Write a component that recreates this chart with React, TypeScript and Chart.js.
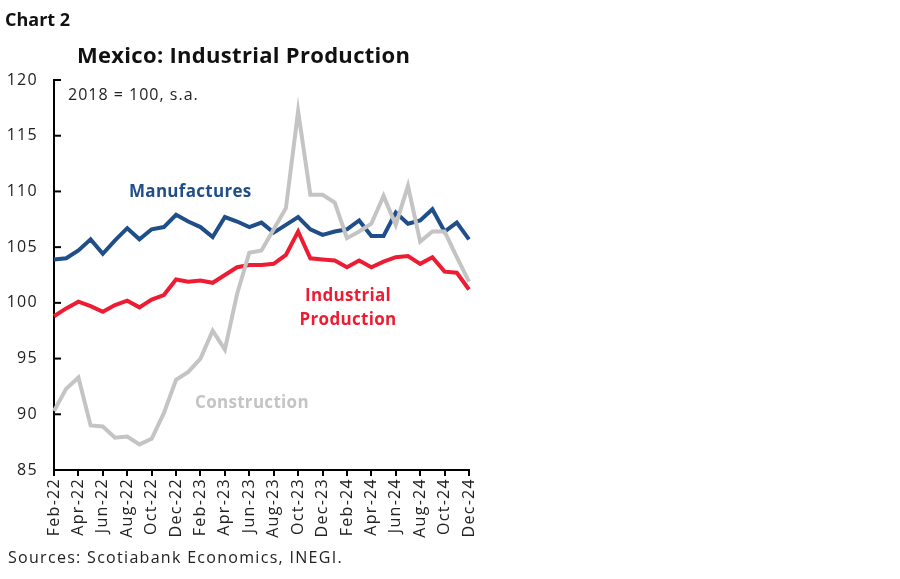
import { Chart, ChartConfiguration, Plugin, registerables } from "chart.js";
import React, { useEffect, useRef } from "react";

Chart.register(...registerables);

const months = [
  "Feb-22", "Mar-22", "Apr-22", "May-22", "Jun-22", "Jul-22", "Aug-22", "Sep-22",
  "Oct-22", "Nov-22", "Dec-22", "Jan-23", "Feb-23", "Mar-23", "Apr-23", "May-23",
  "Jun-23", "Jul-23", "Aug-23", "Sep-23", "Oct-23", "Nov-23", "Dec-23", "Jan-24",
  "Feb-24", "Mar-24", "Apr-24", "May-24", "Jun-24", "Jul-24", "Aug-24", "Sep-24",
  "Oct-24", "Nov-24", "Dec-24",
];

const manufactures = [
  103.9, 104.0, 104.7, 105.7, 104.4, 105.6, 106.7, 105.7, 106.6, 106.8, 107.9, 107.3,
  106.8, 105.9, 107.7, 107.3, 106.8, 107.2, 106.3, 107.0, 107.7, 106.6, 106.1, 106.4,
  106.6, 107.4, 106.0, 106.0, 108.1, 107.1, 107.4, 108.4, 106.4, 107.2, 105.7,
];

const industrial = [
  98.8, 99.5, 100.1, 99.7, 99.2, 99.8, 100.2, 99.6, 100.3, 100.7, 102.1, 101.9,
  102.0, 101.8, 102.5, 103.2, 103.4, 103.4, 103.5, 104.3, 106.4, 104.0, 103.9, 103.8,
  103.2, 103.8, 103.2, 103.7, 104.1, 104.2, 103.5, 104.1, 102.8, 102.7, 101.2,
];

const construction = [
  90.3, 92.3, 93.3, 89.0, 88.9, 87.9, 88.0, 87.3, 87.8, 90.1, 93.1, 93.8,
  95.0, 97.5, 95.8, 100.8, 104.5, 104.7, 106.6, 108.5, 117.2, 109.7, 109.7, 109.0,
  105.8, 106.4, 107.1, 109.6, 107.0, 110.5, 105.5, 106.4, 106.4, 104.1, 101.9,
];

const yMin = 85;
const yMax = 120;
const yStep = 5;

const BLUE = "#1f4e89";
const RED = "#ee1c33";
const GREY = "#c4c4c4";
const FONT = "'Open Sans', 'Noto Sans', sans-serif";

// spacing + small texts drawn straight on the canvas
const textPlugin: Plugin<"line"> = {
  id: "texts",
  beforeDraw(chart) {
    (chart.ctx as any).letterSpacing = "1.3px";
  },
  afterDraw(chart) {
    const ctx = chart.ctx;
    const area = chart.chartArea;
    const y = chart.scales.y;

    // inward ticks on the y axis
    ctx.save();
    ctx.strokeStyle = "#000";
    ctx.lineWidth = 2;
    for (const t of y.ticks) {
      const py = y.getPixelForValue(t.value);
      ctx.beginPath();
      ctx.moveTo(area.left, py);
      ctx.lineTo(area.left + 7, py);
      ctx.stroke();
    }
    ctx.restore();

    const put = (text: string, x: number, yy: number, font: string, color: string,
      align: CanvasTextAlign = "left", spacing = "1px") => {
      ctx.save();
      (ctx as any).letterSpacing = spacing;
      ctx.font = font;
      ctx.fillStyle = color;
      ctx.textAlign = align;
      ctx.textBaseline = "alphabetic";
      ctx.fillText(text, x, yy);
      ctx.restore();
    };

    put("Chart 2", 5, 26, `bold 18px ${FONT}`, "#111", "left", "0px");
    put("Mexico: Industrial Production", 77, 63, `bold 22px ${FONT}`, "#111", "left", "0.3px");
    put("2018 = 100, s.a.", 68, 100, `16px ${FONT}`, "#222", "left", "1px");
    put("Manufactures", 129, 197, `bold 17px ${FONT}`, BLUE, "left", "0.3px");
    put("Industrial", 348, 301, `bold 17px ${FONT}`, RED, "center", "0.3px");
    put("Production", 348, 325, `bold 17px ${FONT}`, RED, "center", "0.3px");
    put("Construction", 195, 408, `bold 17px ${FONT}`, GREY, "left", "0.3px");
    put("Sources: Scotiabank Economics, INEGI.", 8, 563, `16px ${FONT}`, "#222", "left", "1.3px");
  },
};

function configOf(): ChartConfiguration<"line"> {
  const line = (data: number[], color: string, label: string) => ({
    label,
    data,
    borderColor: color,
    backgroundColor: color,
    borderWidth: 4,
    pointRadius: 0,
    tension: 0,
    borderJoinStyle: "miter" as const,
  });

  return {
    type: "line",
    data: {
      labels: months,
      datasets: [
        line(construction, GREY, "Construction"),
        line(industrial, RED, "Industrial Production"),
        line(manufactures, BLUE, "Manufactures"),
      ],
    },
    options: {
      animation: false,
      responsive: false,
      devicePixelRatio: 1,
      layout: { padding: { top: 80, right: 431, left: 0, bottom: 0 } },
      plugins: {
        legend: { display: false },
        tooltip: { enabled: false },
      },
      scales: {
        x: {
          afterFit: (s) => { s.height = 109; },
          grid: {
            drawOnChartArea: false,
            tickLength: 6,
            lineWidth: 2,
            color: (c) => (c.index % 2 === 0 ? "#000" : "rgba(0,0,0,0)"),
          },
          border: { display: true, color: "#000", width: 2 },
          ticks: {
            autoSkip: false,
            maxRotation: 90,
            minRotation: 90,
            padding: 2,
            color: "#222",
            font: { family: FONT, size: 16 },
            callback: (_v, i) => (i % 2 === 0 ? months[i] : ""),
          },
        },
        y: {
          min: yMin,
          max: yMax,
          afterFit: (s) => { s.width = 54; },
          grid: { drawOnChartArea: false, drawTicks: false },
          border: { display: true, color: "#000", width: 2 },
          ticks: {
            stepSize: yStep,
            padding: 16,
            color: "#222",
            font: { family: FONT, size: 16 },
          },
        },
      },
    },
    plugins: [textPlugin],
  };
}

export default function App() {
  const canvas = useRef<HTMLCanvasElement>(null);

  useEffect(() => {
    document.body.style.margin = "0";
    const ctx = canvas.current?.getContext("2d");
    const chart = ctx ? new Chart(ctx, configOf()) : null;
    return () => chart?.destroy();
  }, []);

  return (
    <div style={{ width: 900, height: 579, background: "#fff" }}>
      <canvas ref={canvas} width={900} height={579} style={{ display: "block" }} />
    </div>
  );
}
